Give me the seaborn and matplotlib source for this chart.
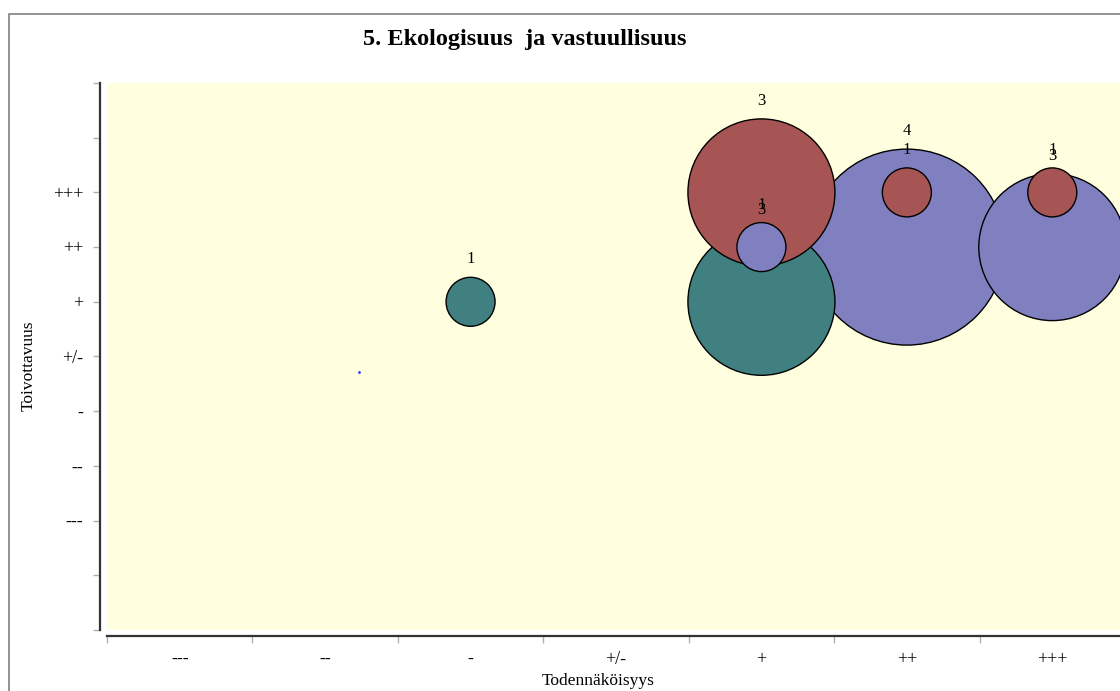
import matplotlib
matplotlib.use("Agg")
import matplotlib.pyplot as plt
from matplotlib.lines import Line2D
import seaborn as sns
import pandas as pd

# ---- data ----
categories = ['---', '--', '-', '+/-', '+', '++', '+++']
title = "5. Ekologisuus  ja vastuullisuus"
x_label = "Todennäköisyys"
y_label = "Toivottavuus"

# bubbles listed in drawing order (largest first)
bubble_group = ['B', 'B', 'C', 'A', 'C', 'B', 'A', 'A']
bubble_x = ['++', '+++', '+', '+', '-', '+', '++', '+++']
bubble_y = ['++', '++', '+', '+++', '+', '++', '+++', '+++']
bubble_count = [4, 3, 3, 3, 1, 1, 1, 1]

group_colors = {'A': '#A65454', 'B': '#8080C0', 'C': '#408080'}

# stray small dot in the reference
dot_x = [1.73]
dot_y = [4.71]

# ---- setup ----
sns.set_theme(style="white")
plt.rcParams['font.family'] = ['Liberation Serif', 'DejaVu Serif']
for k in ['text.color', 'axes.labelcolor', 'xtick.color', 'ytick.color']:
    plt.rcParams[k] = 'black'

W, H = 1120, 691
fig = plt.figure(figsize=(W / 100, H / 100), dpi=100)
left, right, top, bottom = 107, 1125, 83, 630
ax = fig.add_axes([left / W, 1 - bottom / H, (right - left) / W, (bottom - top) / H])
ax.set_facecolor('#FFFFE0')

xpos = {c: i + 0.5 for i, c in enumerate(categories)}
ypos = {c: i + 2 for i, c in enumerate(categories)}

df = pd.DataFrame({
    'group': bubble_group,
    'x': [xpos[v] for v in bubble_x],
    'y': [ypos[v] for v in bubble_y],
    'count': bubble_count,
})

unit_d_pt = 49 * 0.72  # diameter (points) per count unit
sizes = {c: (unit_d_pt * c) ** 2 for c in sorted(set(bubble_count))}

sns.scatterplot(data=df, x='x', y='y', hue='group', size='count', sizes=sizes,
                palette=group_colors, edgecolor='black', linewidth=1.0,
                legend=False, ax=ax, alpha=1, zorder=3, clip_on=False)

ax.scatter(dot_x, dot_y, s=4, color='#3333FF', zorder=4, linewidths=0)

for _, r in df.iterrows():
    rad_pt = unit_d_pt * r['count'] / 2
    ax.annotate(str(r['count']), (r['x'], r['y']), xytext=(0, rad_pt + 13),
                textcoords='offset points', ha='center', va='center',
                fontsize=12, color='black', zorder=5)

ax.set_xlim(0, 7)
ax.set_ylim(0, 10)

# x axis: boundary ticks + centered labels
ax.set_xticks(range(0, 8))
ax.set_xticklabels([])
ax.set_xticks([xpos[c] for c in categories], minor=True)
ax.set_xticklabels(categories, minor=True)
ax.tick_params(axis='x', which='major', bottom=True, length=5, width=1, color='#B0B0B0')
ax.tick_params(axis='x', which='minor', bottom=True, length=0, pad=11, labelsize=13,
               labelcolor='black')

# y axis
ax.set_yticks(range(0, 11))
ylabels = [''] * 11
for c in categories:
    ylabels[ypos[c]] = c
ax.set_yticklabels(ylabels)
ax.tick_params(axis='y', left=True, length=5, width=1, color='#B0B0B0', pad=7,
               labelsize=13, labelcolor='black')

for s in ['top', 'right']:
    ax.spines[s].set_visible(False)
for s in ['left', 'bottom']:
    ax.spines[s].set_color('#333333')
    ax.spines[s].set_linewidth(1.6)
sns.despine(ax=ax, offset={'left': 5, 'bottom': 4.3})
ax.grid(False)

ax.set_xlabel(x_label, fontsize=12.5)
ax.set_ylabel(y_label, fontsize=12.5)
ax.xaxis.set_label_coords((598 - left) / (right - left), -(673 - bottom) / (bottom - top))
ax.yaxis.set_label_coords(-(107 - 37) / (right - left), (bottom - 366) / (bottom - top))

fig.text(525 / W, 1 - 40 / H, title, ha='center', va='center', fontsize=17.5,
         fontweight='bold', color='black')

# outer frame
fig.add_artist(Line2D([9 / W, 9 / W, 1.0], [0.0, 1 - 14 / H, 1 - 14 / H],
                      transform=fig.transFigure, color='#808080', linewidth=1.2))

fig.savefig('out.png', dpi=100)
